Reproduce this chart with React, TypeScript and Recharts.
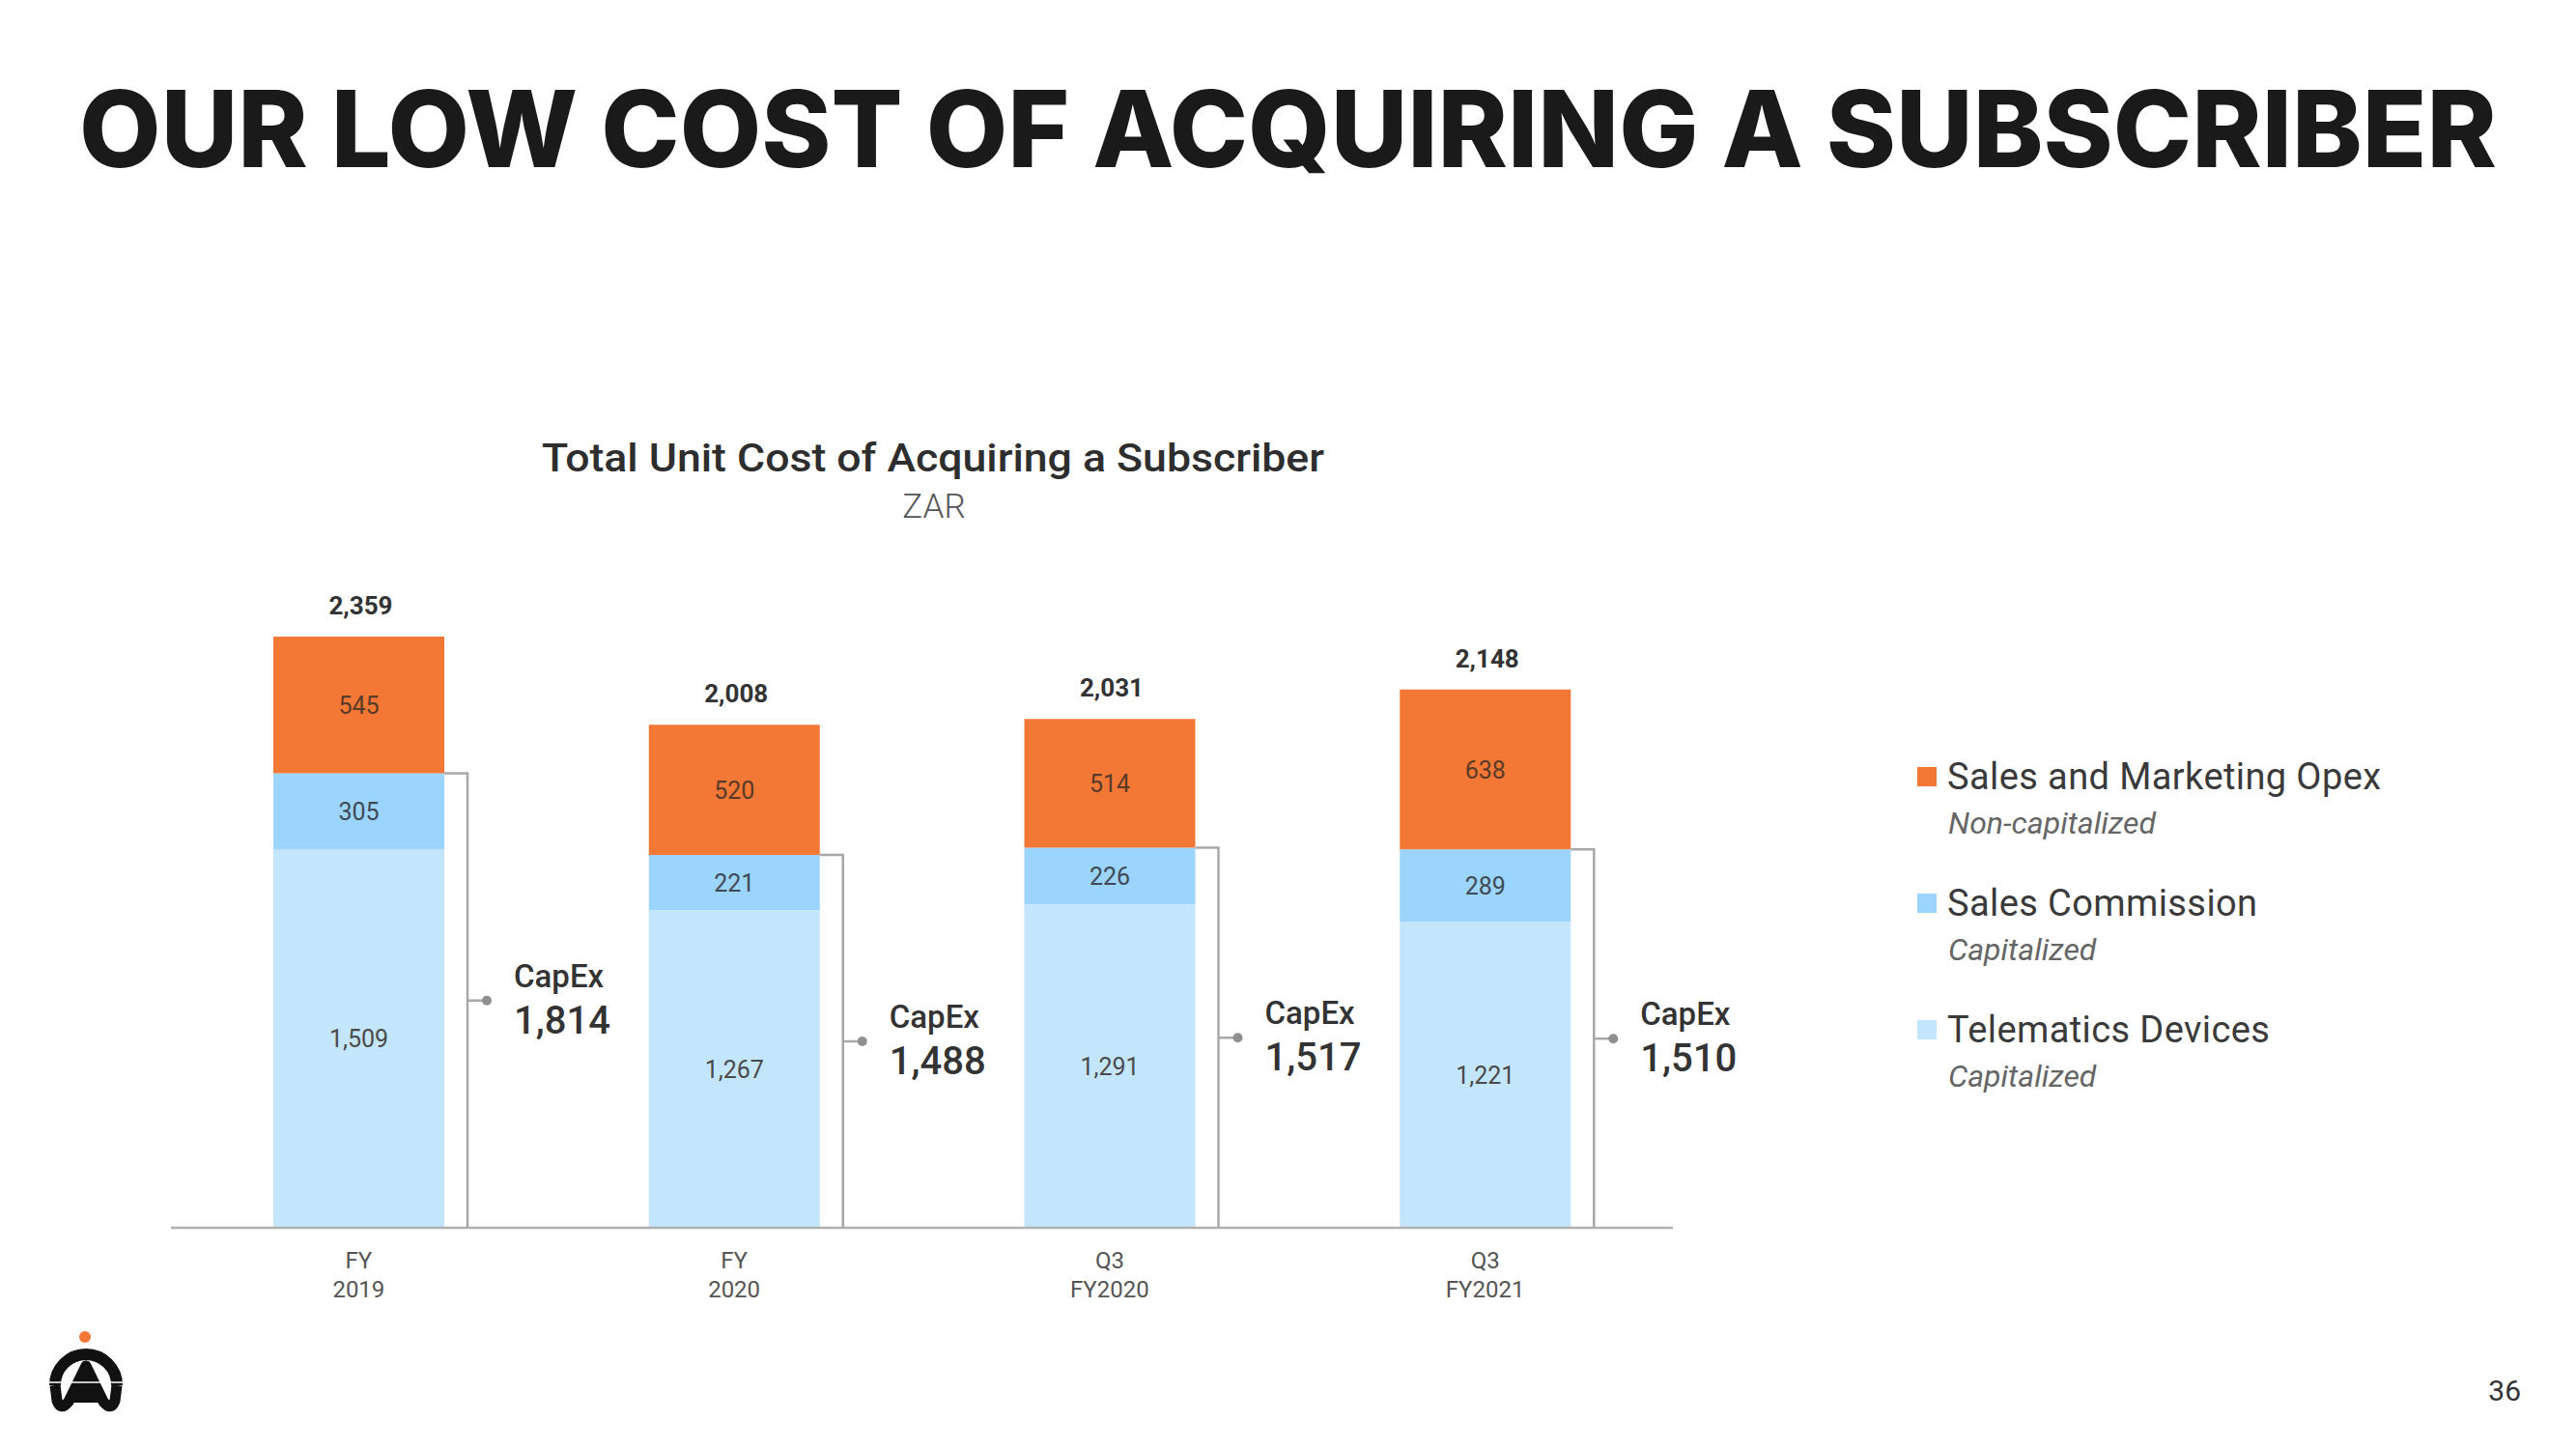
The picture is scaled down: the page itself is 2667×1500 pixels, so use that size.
import React from 'react';
import { BarChart, Bar, XAxis, YAxis, LabelList, Legend } from 'recharts';

// categories
const periods = ['FY 2019', 'FY 2020', 'Q3 FY2020', 'Q3 FY2021'];
const periodTop = ['FY', 'FY', 'Q3', 'Q3'];
const periodBottom = ['2019', '2020', 'FY2020', 'FY2021'];

// series values (ZAR per subscriber)
const telematics = [1509, 1267, 1291, 1221];
const commission = [305, 221, 226, 289];
const opex = [545, 520, 514, 638];
const totals = [2359, 2008, 2031, 2148];
const capex = [1814, 1488, 1517, 1510];

// legend
const legendLabels = ['Sales and Marketing Opex', 'Sales Commission', 'Telematics Devices'];
const legendNotes = ['Non-capitalized', 'Capitalized', 'Capitalized'];

const ORANGE = '#F37836';
const BLUE = '#9BD4FD';
const LIGHT = '#C4E6FD';
const legendColors = [ORANGE, BLUE, LIGHT];

const fmt = (v: number) => v.toLocaleString('en-US');

const data = periods.map((p, i) => ({
  period: p,
  telematics: telematics[i],
  commission: commission[i],
  opex: opex[i],
}));

const segmentLabel = (values: number[], fill: string) => (props: any) => {
  const { x, y, width, height, index } = props;
  return (
    <text
      x={Number(x) + Number(width) / 2}
      y={Number(y) + Number(height) / 2 + 9}
      textAnchor="middle"
      fontFamily="Roboto"
      fontSize={25}
      fill={fill}
    >
      {fmt(values[index])}
    </text>
  );
};

const TotalLabel = (props: any) => {
  const { x, y, width, index } = props;
  return (
    <text
      x={Number(x) + Number(width) / 2 + 2}
      y={Number(y) - 23}
      textAnchor="middle"
      fontFamily="Roboto"
      fontWeight={700}
      fontSize={26}
      fill="#333"
    >
      {fmt(totals[index])}
    </text>
  );
};

// bracket covering the capitalized part (telematics + commission)
const CapexBracket = (props: any) => {
  const x = Number(props.x);
  const y = Number(props.y);
  const width = Number(props.width);
  const height = Number(props.height);
  const index = props.index;
  const perUnit = height / telematics[index];
  const top = y - commission[index] * perUnit;
  const bottom = y + height;
  const right = x + width;
  const lineX = right + 24;
  const mid = (top + bottom) / 2;
  return (
    <g>
      <polyline
        points={`${right},${top} ${lineX},${top} ${lineX},${bottom}`}
        fill="none"
        stroke="#a8a8a8"
        strokeWidth={2.5}
      />
      <line x1={lineX} y1={mid} x2={lineX + 20} y2={mid} stroke="#a8a8a8" strokeWidth={2.5} />
      <circle cx={lineX + 20} cy={mid} r={5} fill="#8f8f8f" />
      <text x={lineX + 48} y={mid - 14} fontFamily="Roboto" fontWeight={500} fontSize={33} fill="#333">
        CapEx
      </text>
      <text x={lineX + 48} y={mid + 34} fontFamily="Roboto" fontWeight={500} fontSize={40} fill="#333">
        {fmt(capex[index])}
      </text>
    </g>
  );
};

const PeriodTick = (props: any) => {
  const { x, y, index } = props;
  return (
    <text x={x} y={y} textAnchor="middle" fontFamily="Roboto" fontSize={24} fill="#555">
      <tspan x={x} dy={42}>{periodTop[index]}</tspan>
      <tspan x={x} dy={30}>{periodBottom[index]}</tspan>
    </text>
  );
};

const LegendBlock = () => (
  <svg width={600} height={400}>
    {legendLabels.map((label, i) => {
      const cy = 34 + i * 131;
      return (
        <g key={label}>
          <rect x={15} y={cy - 10} width={20} height={20} fill={legendColors[i]} />
          <text x={46} y={cy + 13} fontFamily="Roboto" fontSize={38} letterSpacing={0.4} fill="#3a3a3a">
            {label}
          </text>
          <text x={47} y={cy + 59} fontFamily="Roboto" fontStyle="italic" fontSize={32} fill="#666">
            {legendNotes[i]}
          </text>
        </g>
      );
    })}
  </svg>
);

const Logo = () => (
  <g>
    <circle cx={88} cy={1384} r={6} fill={ORANGE} />
    <path d="M 57 1434 A 32 32 0 0 1 121 1434" fill="none" stroke="#111" strokeWidth={12} />
    <path
      d="M 57 1434 L 59 1450 Q 63 1461 71 1451 L 89 1414 L 107 1451 Q 115 1461 119 1450 L 121 1434"
      fill="none"
      stroke="#111"
      strokeWidth={11}
      strokeLinejoin="round"
    />
    <path d="M 89 1408 L 72 1452 L 106 1452 Z" fill="#111" />
    <line x1={44} y1={1431} x2={134} y2={1431} stroke="#fff" strokeWidth={1.5} />
  </g>
);

export default function App() {
  return (
    <div style={{ position: 'absolute', left: 0, top: 0, width: 2667, height: 1500, background: '#fff' }}>
      <BarChart
        width={2667}
        height={1500}
        data={data}
        margin={{ top: 596.6, right: 935, bottom: 149, left: 177 }}
      >
        <XAxis
          dataKey="period"
          height={80}
          axisLine={{ stroke: '#b0b0b0', strokeWidth: 2.5 }}
          tickLine={false}
          tickSize={0}
          tickMargin={0}
          interval={0}
          tick={<PeriodTick />}
        />
        <YAxis type="number" hide domain={[0, 2600]} allowDataOverflow />
        <Legend
          layout="vertical"
          align="center"
          verticalAlign="middle"
          content={() => <LegendBlock />}
          wrapperStyle={{ position: 'absolute', left: 1970, top: 770, width: 600, height: 400 }}
        />
        <Bar dataKey="telematics" stackId="a" fill={LIGHT} barSize={177} isAnimationActive={false}>
          <LabelList dataKey="telematics" content={segmentLabel(telematics, '#4a4a4a')} />
          <LabelList dataKey="telematics" content={CapexBracket} />
        </Bar>
        <Bar dataKey="commission" stackId="a" fill={BLUE} barSize={177} isAnimationActive={false}>
          <LabelList dataKey="commission" content={segmentLabel(commission, '#3f4a55')} />
        </Bar>
        <Bar dataKey="opex" stackId="a" fill={ORANGE} barSize={177} isAnimationActive={false}>
          <LabelList dataKey="opex" content={segmentLabel(opex, '#5a3a28')} />
          <LabelList dataKey="opex" content={TotalLabel} />
        </Bar>
      </BarChart>
      <svg
        width={2667}
        height={1500}
        style={{ position: 'absolute', left: 0, top: 0, pointerEvents: 'none' }}
      >
        <text
          x={82}
          y={173}
          textLength={2503}
          lengthAdjust="spacingAndGlyphs"
          fontFamily="Inter"
          fontWeight={800}
          fontSize={110}
          fill="#1a1a1a"
        >
          OUR LOW COST OF ACQUIRING A SUBSCRIBER
        </text>
        <text
          x={561}
          y={488}
          textLength={810}
          lengthAdjust="spacingAndGlyphs"
          fontFamily="Roboto"
          fontWeight={500}
          fontSize={41}
          fill="#2e2e2e"
        >
          Total Unit Cost of Acquiring a Subscriber
        </text>
        <text x={967} y={536} textAnchor="middle" fontFamily="Roboto" fontWeight={300} fontSize={35} fill="#555">
          ZAR
        </text>
        <text x={2610} y={1450} textAnchor="end" fontFamily="Roboto" fontSize={30} fill="#333">
          36
        </text>
        <Logo />
      </svg>
    </div>
  );
}
